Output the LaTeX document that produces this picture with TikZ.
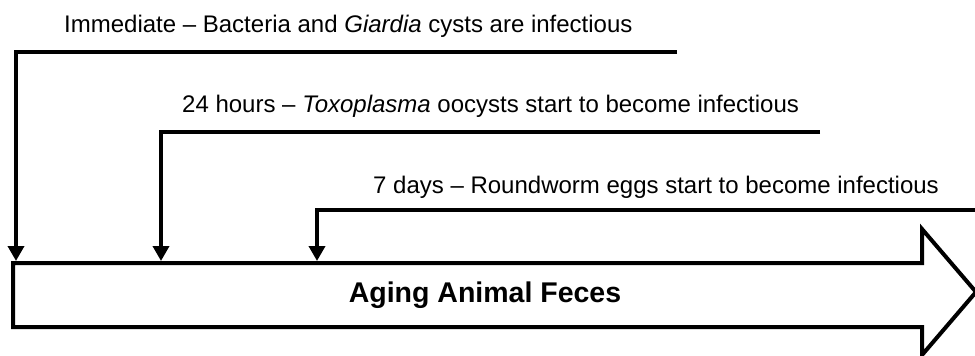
\documentclass[tikz,border=0pt]{standalone}
\usepackage{fontspec}
\setmainfont{Liberation Sans}
\usetikzlibrary{arrows.meta}

\tikzset{
  bracket/.style={line width=3.6pt,-{Triangle[width=16pt,length=15pt]}},
  stage/.style={font=\fontsize{24}{28}\selectfont,inner sep=0pt,anchor=base west},
}

\begin{document}
\begin{tikzpicture}[x=1pt,y=-1pt]
  \useasboundingbox (0,0) rectangle (975,356);
  % the big arrow
  \draw[line width=4pt] (13,263) -- (922,263) -- (922,229) -- (976,292)
    -- (922,355) -- (922,327) -- (13,327) -- cycle;
  \node[font=\bfseries\fontsize{28.5}{33}\selectfont,inner sep=0pt,anchor=base]
    (feces) at (485,302) {Aging Animal Feces};
  % stages
  \node[stage] (immediate) at (64,32)
    {Immediate – Bacteria and \textit{Giardia} cysts are infectious};
  \node[stage] (hours) at (182,112)
    {24 hours – \textit{Toxoplasma} oocysts start to become infectious};
  \node[stage] (days) at (373,193)
    {7 days – Roundworm eggs start to become infectious};
  \coordinate (immediate end) at (677,52);
  \coordinate (hours end) at (820,132);
  \coordinate (days end) at (980,210);
  \coordinate (immediate hit) at (16,261);
  \coordinate (hours hit) at (161,261);
  \coordinate (days hit) at (317,261);
  \draw[bracket] (immediate end) -| (immediate hit);
  \draw[bracket] (hours end) -| (hours hit);
  \draw[bracket] (days end) -| (days hit);
\end{tikzpicture}
\end{document}
